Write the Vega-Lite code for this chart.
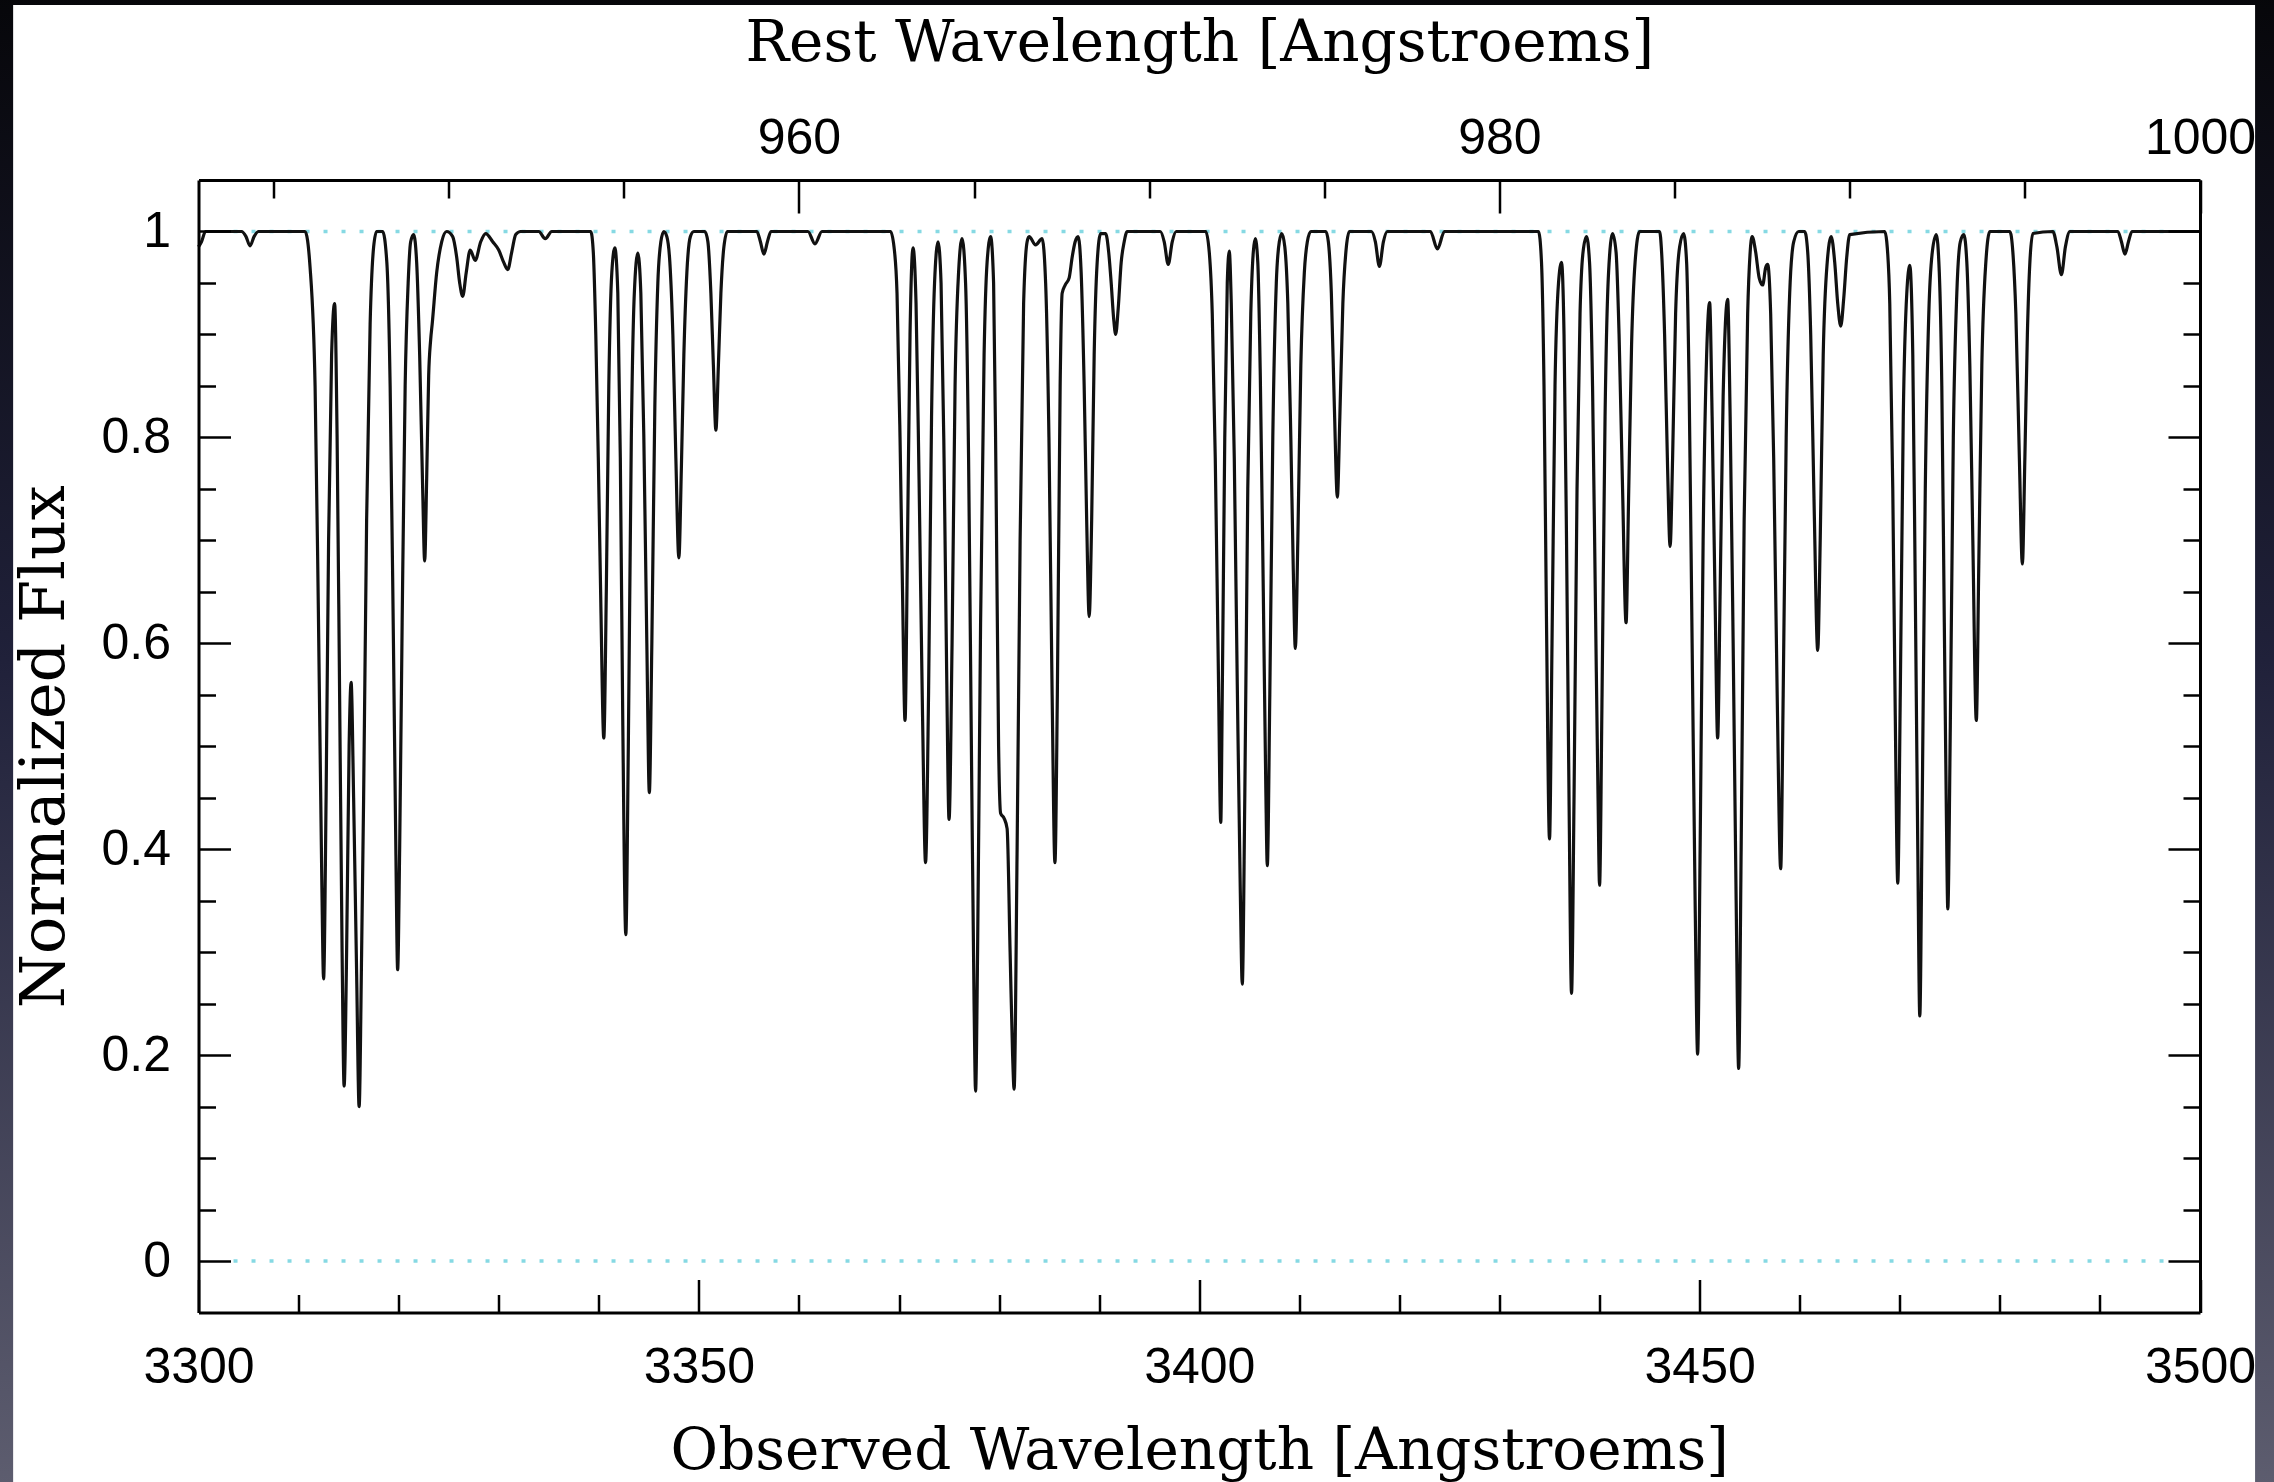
{
  "$schema": "https://vega.github.io/schema/vega-lite/v6.json",
  "width": 2001.5,
  "height": 1132.5,
  "autosize": {"type": "none"},
  "padding": {"left": 198.5, "top": 180, "right": 74, "bottom": 169.5},
  "background": "#1d1e2b",
  "config": {
    "view": {"stroke": null},
    "axis": {
      "zindex": 1,
      "grid": false,
      "domain": true,
      "domainColor": "black",
      "domainWidth": 3,
      "tickColor": "black",
      "tickWidth": 2.5,
      "labelColor": "black",
      "labelFont": "Liberation Sans",
      "labelFontSize": 50,
      "labelOverlap": false,
      "labelFlush": false,
      "titleColor": "black",
      "titleFont": "DejaVu Serif",
      "titleFontWeight": "normal",
      "titleFontSize": 58
    }
  },
  "datasets": {
    "levels": [{"level": 0}, {"level": 1}],
    "spectrum": [
      {"w":3300.0,"f":0.985},{"w":3300.3,"f":0.99},{"w":3300.7,"f":1.0},{"w":3304.3,"f":1.0},{"w":3304.75,"f":0.995},{"w":3305.15,"f":0.986},{"w":3305.55,"f":0.995},{"w":3306.0,"f":1.0},
      {"w":3310.65,"f":1.0},{"w":3311.15,"f":0.965},{"w":3311.65,"f":0.85},{"w":3311.98,"f":0.63},{"w":3312.32,"f":0.37},{"w":3312.5,"f":0.274},{"w":3312.75,"f":0.45},{"w":3313.0,"f":0.7},{"w":3313.3,"f":0.88},{"w":3313.6,"f":0.93},
      {"w":3313.85,"f":0.8},{"w":3314.1,"f":0.55},{"w":3314.35,"f":0.3},{"w":3314.55,"f":0.17},{"w":3314.8,"f":0.3},{"w":3315.05,"f":0.5},{"w":3315.25,"f":0.562},{"w":3315.5,"f":0.45},{"w":3315.8,"f":0.28},{"w":3316.05,"f":0.15},
      {"w":3316.3,"f":0.3},{"w":3316.5,"f":0.45},{"w":3316.8,"f":0.72},{"w":3317.15,"f":0.91},{"w":3317.5,"f":0.985},{"w":3317.8,"f":1.0},{"w":3318.4,"f":1.0},
      {"w":3318.82,"f":0.97},{"w":3319.15,"f":0.85},{"w":3319.48,"f":0.6},{"w":3319.72,"f":0.4},{"w":3319.9,"f":0.283},{"w":3320.1,"f":0.4},{"w":3320.35,"f":0.62},{"w":3320.65,"f":0.85},{"w":3320.95,"f":0.95},{"w":3321.2,"f":0.99},{"w":3321.5,"f":0.997},
      {"w":3321.8,"f":0.97},{"w":3322.1,"f":0.88},{"w":3322.4,"f":0.75},{"w":3322.6,"f":0.68},{"w":3322.8,"f":0.76},{"w":3323.0,"f":0.86},{"w":3323.2,"f":0.895},{"w":3323.35,"f":0.91},{"w":3323.8,"f":0.96},{"w":3324.3,"f":0.99},{"w":3324.8,"f":1.0},
      {"w":3325.4,"f":0.995},{"w":3325.8,"f":0.975},{"w":3326.1,"f":0.95},{"w":3326.4,"f":0.937},{"w":3326.75,"f":0.96},{"w":3327.15,"f":0.982},{"w":3327.65,"f":0.972},{"w":3328.2,"f":0.99},{"w":3328.7,"f":0.998},
      {"w":3329.4,"f":0.99},{"w":3330.0,"f":0.982},{"w":3330.5,"f":0.97},{"w":3330.9,"f":0.963},{"w":3331.3,"f":0.98},{"w":3331.7,"f":0.997},{"w":3332.2,"f":1.0},{"w":3334.0,"f":1.0},{"w":3334.65,"f":0.993},{"w":3335.3,"f":1.0},
      {"w":3339.2,"f":1.0},{"w":3339.45,"f":0.98},{"w":3339.7,"f":0.9},{"w":3339.95,"f":0.78},{"w":3340.2,"f":0.64},{"w":3340.5,"f":0.508},{"w":3340.75,"f":0.65},{"w":3341.0,"f":0.85},{"w":3341.3,"f":0.96},{"w":3341.6,"f":0.984},
      {"w":3341.9,"f":0.94},{"w":3342.15,"f":0.78},{"w":3342.4,"f":0.52},{"w":3342.7,"f":0.317},{"w":3342.95,"f":0.5},{"w":3343.25,"f":0.8},{"w":3343.55,"f":0.94},{"w":3343.9,"f":0.979},
      {"w":3344.2,"f":0.94},{"w":3344.5,"f":0.8},{"w":3344.8,"f":0.6},{"w":3345.05,"f":0.455},{"w":3345.3,"f":0.6},{"w":3345.6,"f":0.83},{"w":3345.9,"f":0.95},{"w":3346.2,"f":0.99},{"w":3346.5,"f":1.0},{"w":3346.8,"f":0.995},
      {"w":3347.1,"f":0.97},{"w":3347.4,"f":0.9},{"w":3347.7,"f":0.78},{"w":3348.0,"f":0.683},{"w":3348.25,"f":0.77},{"w":3348.5,"f":0.88},{"w":3348.8,"f":0.96},{"w":3349.15,"f":0.995},{"w":3349.5,"f":1.0},{"w":3350.6,"f":1.0},
      {"w":3350.9,"f":0.99},{"w":3351.2,"f":0.94},{"w":3351.45,"f":0.87},{"w":3351.7,"f":0.807},{"w":3351.95,"f":0.87},{"w":3352.2,"f":0.94},{"w":3352.5,"f":0.985},{"w":3352.85,"f":1.0},
      {"w":3355.8,"f":1.0},{"w":3356.15,"f":0.99},{"w":3356.5,"f":0.978},{"w":3356.85,"f":0.99},{"w":3357.2,"f":1.0},{"w":3360.9,"f":1.0},{"w":3361.6,"f":0.988},{"w":3362.3,"f":1.0},
      {"w":3369.15,"f":1.0},{"w":3369.5,"f":0.985},{"w":3369.8,"f":0.94},{"w":3370.1,"f":0.8},{"w":3370.35,"f":0.65},{"w":3370.6,"f":0.525},{"w":3370.85,"f":0.7},{"w":3371.1,"f":0.9},{"w":3371.4,"f":0.984},
      {"w":3371.7,"f":0.93},{"w":3372.0,"f":0.76},{"w":3372.35,"f":0.53},{"w":3372.65,"f":0.387},{"w":3372.95,"f":0.55},{"w":3373.25,"f":0.82},{"w":3373.55,"f":0.95},{"w":3373.9,"f":0.99},
      {"w":3374.2,"f":0.95},{"w":3374.5,"f":0.78},{"w":3374.75,"f":0.58},{"w":3375.0,"f":0.429},{"w":3375.3,"f":0.6},{"w":3375.6,"f":0.85},{"w":3375.95,"f":0.96},{"w":3376.3,"f":0.993},
      {"w":3376.65,"f":0.95},{"w":3376.95,"f":0.78},{"w":3377.25,"f":0.48},{"w":3377.5,"f":0.25},{"w":3377.65,"f":0.165},{"w":3377.85,"f":0.3},{"w":3378.15,"f":0.62},{"w":3378.5,"f":0.88},{"w":3378.8,"f":0.97},{"w":3379.15,"f":0.995},
      {"w":3379.45,"f":0.95},{"w":3379.7,"f":0.75},{"w":3379.95,"f":0.5},{"w":3380.15,"f":0.435},{"w":3380.5,"f":0.43},{"w":3380.8,"f":0.42},{"w":3381.1,"f":0.3},{"w":3381.35,"f":0.2},{"w":3381.5,"f":0.167},
      {"w":3381.8,"f":0.4},{"w":3382.1,"f":0.7},{"w":3382.45,"f":0.93},{"w":3382.8,"f":0.99},{"w":3383.0,"f":0.995},{"w":3383.65,"f":0.987},{"w":3384.3,"f":0.993},
      {"w":3384.65,"f":0.95},{"w":3384.98,"f":0.8},{"w":3385.3,"f":0.55},{"w":3385.58,"f":0.387},{"w":3385.82,"f":0.55},{"w":3386.1,"f":0.85},{"w":3386.3,"f":0.94},{"w":3386.6,"f":0.948},{"w":3387.0,"f":0.955},{"w":3387.3,"f":0.975},{"w":3387.6,"f":0.99},{"w":3387.9,"f":0.995},
      {"w":3388.2,"f":0.96},{"w":3388.5,"f":0.85},{"w":3388.75,"f":0.72},{"w":3389.0,"f":0.626},{"w":3389.25,"f":0.72},{"w":3389.5,"f":0.88},{"w":3389.8,"f":0.97},{"w":3390.15,"f":0.998},{"w":3390.65,"f":0.998},
      {"w":3390.95,"f":0.98},{"w":3391.2,"f":0.95},{"w":3391.45,"f":0.915},{"w":3391.65,"f":0.9},{"w":3391.9,"f":0.925},{"w":3392.2,"f":0.97},{"w":3392.5,"f":0.99},{"w":3392.8,"f":1.0},
      {"w":3396.1,"f":1.0},{"w":3396.5,"f":0.99},{"w":3396.9,"f":0.968},{"w":3397.3,"f":0.99},{"w":3397.7,"f":1.0},{"w":3400.65,"f":1.0},
      {"w":3401.0,"f":0.98},{"w":3401.3,"f":0.92},{"w":3401.6,"f":0.78},{"w":3401.9,"f":0.58},{"w":3402.15,"f":0.426},{"w":3402.3,"f":0.55},{"w":3402.55,"f":0.8},{"w":3402.8,"f":0.95},{"w":3403.0,"f":0.981},
      {"w":3403.2,"f":0.93},{"w":3403.5,"f":0.78},{"w":3403.8,"f":0.56},{"w":3404.1,"f":0.36},{"w":3404.3,"f":0.269},{"w":3404.55,"f":0.45},{"w":3404.85,"f":0.75},{"w":3405.15,"f":0.92},{"w":3405.4,"f":0.98},{"w":3405.6,"f":0.993},
      {"w":3405.85,"f":0.97},{"w":3406.1,"f":0.86},{"w":3406.4,"f":0.65},{"w":3406.65,"f":0.46},{"w":3406.8,"f":0.384},{"w":3407.05,"f":0.55},{"w":3407.35,"f":0.8},{"w":3407.7,"f":0.95},{"w":3408.0,"f":0.99},{"w":3408.25,"f":0.998},
      {"w":3408.55,"f":0.985},{"w":3408.85,"f":0.93},{"w":3409.15,"f":0.8},{"w":3409.4,"f":0.67},{"w":3409.6,"f":0.595},{"w":3409.85,"f":0.7},{"w":3410.15,"f":0.87},{"w":3410.5,"f":0.96},{"w":3410.8,"f":0.99},{"w":3411.15,"f":1.0},{"w":3412.65,"f":1.0},
      {"w":3412.9,"f":0.99},{"w":3413.2,"f":0.94},{"w":3413.5,"f":0.83},{"w":3413.8,"f":0.742},{"w":3414.05,"f":0.82},{"w":3414.35,"f":0.93},{"w":3414.7,"f":0.985},{"w":3415.0,"f":1.0},
      {"w":3417.2,"f":1.0},{"w":3417.6,"f":0.99},{"w":3418.0,"f":0.966},{"w":3418.4,"f":0.99},{"w":3418.8,"f":1.0},{"w":3423.1,"f":1.0},{"w":3423.8,"f":0.983},{"w":3424.5,"f":1.0},
      {"w":3433.9,"f":1.0},{"w":3434.2,"f":0.97},{"w":3434.45,"f":0.85},{"w":3434.7,"f":0.62},{"w":3435.0,"f":0.41},{"w":3435.25,"f":0.6},{"w":3435.55,"f":0.85},{"w":3435.9,"f":0.95},{"w":3436.2,"f":0.97},
      {"w":3436.45,"f":0.9},{"w":3436.7,"f":0.7},{"w":3436.95,"f":0.45},{"w":3437.2,"f":0.26},{"w":3437.45,"f":0.45},{"w":3437.75,"f":0.75},{"w":3438.05,"f":0.92},{"w":3438.35,"f":0.98},{"w":3438.7,"f":0.995},
      {"w":3439.0,"f":0.97},{"w":3439.3,"f":0.85},{"w":3439.6,"f":0.63},{"w":3439.85,"f":0.45},{"w":3440.0,"f":0.365},{"w":3440.25,"f":0.55},{"w":3440.55,"f":0.82},{"w":3440.9,"f":0.96},{"w":3441.3,"f":0.998},
      {"w":3441.65,"f":0.98},{"w":3441.95,"f":0.9},{"w":3442.3,"f":0.75},{"w":3442.65,"f":0.62},{"w":3442.9,"f":0.74},{"w":3443.2,"f":0.89},{"w":3443.55,"f":0.97},{"w":3444.0,"f":1.0},{"w":3446.0,"f":1.0},
      {"w":3446.2,"f":0.98},{"w":3446.5,"f":0.9},{"w":3446.8,"f":0.77},{"w":3447.05,"f":0.694},{"w":3447.3,"f":0.78},{"w":3447.6,"f":0.92},{"w":3448.0,"f":0.985},{"w":3448.4,"f":0.998},
      {"w":3448.7,"f":0.97},{"w":3448.95,"f":0.85},{"w":3449.25,"f":0.6},{"w":3449.55,"f":0.35},{"w":3449.8,"f":0.201},{"w":3450.05,"f":0.4},{"w":3450.35,"f":0.7},{"w":3450.7,"f":0.88},{"w":3451.0,"f":0.931},
      {"w":3451.25,"f":0.82},{"w":3451.55,"f":0.64},{"w":3451.8,"f":0.508},{"w":3452.05,"f":0.65},{"w":3452.35,"f":0.84},{"w":3452.8,"f":0.934},
      {"w":3453.05,"f":0.82},{"w":3453.35,"f":0.6},{"w":3453.65,"f":0.35},{"w":3453.9,"f":0.187},{"w":3454.15,"f":0.4},{"w":3454.45,"f":0.72},{"w":3454.8,"f":0.92},{"w":3455.05,"f":0.98},{"w":3455.25,"f":0.995},
      {"w":3455.6,"f":0.98},{"w":3455.95,"f":0.955},{"w":3456.3,"f":0.948},{"w":3456.6,"f":0.965},{"w":3456.8,"f":0.968},
      {"w":3457.1,"f":0.92},{"w":3457.4,"f":0.78},{"w":3457.75,"f":0.55},{"w":3458.1,"f":0.381},{"w":3458.35,"f":0.55},{"w":3458.65,"f":0.8},{"w":3459.0,"f":0.94},{"w":3459.4,"f":0.99},{"w":3459.9,"f":1.0},{"w":3460.5,"f":1.0},
      {"w":3460.8,"f":0.98},{"w":3461.1,"f":0.9},{"w":3461.45,"f":0.73},{"w":3461.8,"f":0.593},{"w":3462.05,"f":0.7},{"w":3462.35,"f":0.88},{"w":3462.75,"f":0.97},{"w":3463.15,"f":0.995},
      {"w":3463.5,"f":0.97},{"w":3463.8,"f":0.93},{"w":3464.1,"f":0.908},{"w":3464.4,"f":0.935},{"w":3464.7,"f":0.975},{"w":3465.0,"f":0.997},{"w":3468.5,"f":1.0},
      {"w":3468.7,"f":0.99},{"w":3469.0,"f":0.93},{"w":3469.3,"f":0.75},{"w":3469.55,"f":0.53},{"w":3469.8,"f":0.367},{"w":3470.05,"f":0.55},{"w":3470.35,"f":0.82},{"w":3470.7,"f":0.94},{"w":3471.0,"f":0.967},
      {"w":3471.3,"f":0.88},{"w":3471.55,"f":0.65},{"w":3471.8,"f":0.4},{"w":3472.0,"f":0.238},{"w":3472.25,"f":0.45},{"w":3472.55,"f":0.75},{"w":3472.9,"f":0.92},{"w":3473.25,"f":0.98},{"w":3473.65,"f":0.997},
      {"w":3473.95,"f":0.96},{"w":3474.2,"f":0.85},{"w":3474.45,"f":0.62},{"w":3474.65,"f":0.44},{"w":3474.8,"f":0.342},{"w":3475.05,"f":0.52},{"w":3475.35,"f":0.8},{"w":3475.7,"f":0.94},{"w":3476.05,"f":0.99},{"w":3476.4,"f":0.997},
      {"w":3476.7,"f":0.97},{"w":3477.0,"f":0.87},{"w":3477.3,"f":0.7},{"w":3477.65,"f":0.525},{"w":3477.9,"f":0.68},{"w":3478.2,"f":0.87},{"w":3478.6,"f":0.97},{"w":3479.0,"f":1.0},{"w":3481.0,"f":1.0},
      {"w":3481.3,"f":0.98},{"w":3481.6,"f":0.92},{"w":3481.95,"f":0.78},{"w":3482.25,"f":0.677},{"w":3482.5,"f":0.78},{"w":3482.75,"f":0.9},{"w":3483.0,"f":0.97},{"w":3483.3,"f":0.998},
      {"w":3485.3,"f":1.0},{"w":3485.7,"f":0.985},{"w":3486.15,"f":0.958},{"w":3486.55,"f":0.985},{"w":3487.0,"f":1.0},
      {"w":3491.8,"f":1.0},{"w":3492.15,"f":0.99},{"w":3492.5,"f":0.978},{"w":3492.85,"f":0.99},{"w":3493.2,"f":1.0},{"w":3500.0,"f":1.0}
    ]
  },
  "resolve": {"axis": {"x": "independent", "y": "independent"}},
  "layer": [
    {
      "data": {"name": "levels"},
      "mark": {
        "type": "rect",
        "fill": {
          "gradient": "linear", "x1": 0, "y1": 0, "x2": 0, "y2": 1,
          "stops": [
            {"offset": 0, "color": "#060609"},
            {"offset": 0.45, "color": "#20213a"},
            {"offset": 1, "color": "#5d5d6f"}
          ]
        }
      },
      "encoding": {
        "x": {"datum": 3275, "type": "quantitative", "scale": {"domain": [3300, 3500], "nice": false, "zero": false}, "axis": null},
        "x2": {"datum": 3510},
        "y": {"datum": 1.24, "type": "quantitative", "scale": {"domain": [-0.05, 1.05], "nice": false, "zero": false}, "axis": null},
        "y2": {"datum": -0.22}
      }
    },
    {
      "data": {"name": "levels"},
      "mark": {"type": "rect", "fill": "white"},
      "encoding": {
        "x": {"datum": 3281.5, "type": "quantitative", "scale": {"domain": [3300, 3500], "nice": false, "zero": false}, "axis": null},
        "x2": {"datum": 3505.5},
        "y": {"datum": 1.22, "type": "quantitative", "scale": {"domain": [-0.05, 1.05], "nice": false, "zero": false}, "axis": null},
        "y2": {"datum": -0.22}
      }
    },
    {
      "data": {"name": "levels"},
      "mark": {"type": "rule", "color": "#86d9e3", "strokeWidth": 3.5, "strokeDash": [4, 14]},
      "encoding": {
        "x": {
          "datum": 3303.5, "type": "quantitative",
          "scale": {"domain": [3300, 3500], "nice": false, "zero": false},
          "axis": {
            "zindex": 2,
            "orient": "bottom",
            "values": [3300,3310,3320,3330,3340,3350,3360,3370,3380,3390,3400,3410,3420,3430,3440,3450,3460,3470,3480,3490,3500],
            "tickSize": {"condition": {"test": "datum.value % 50 === 0", "value": -33}, "value": -18},
            "labelExpr": "datum.value % 50 === 0 ? format(datum.value, 'd') : ''",
            "labelPadding": 63,
            "title": "Observed Wavelength [Angstroems]",
            "titlePadding": 15
          }
        },
        "x2": {"datum": 3497},
        "y": {
          "field": "level", "type": "quantitative",
          "scale": {"domain": [-0.05, 1.05], "nice": false, "zero": false},
          "axis": {
            "zindex": 2,
            "orient": "left",
            "values": [0,0.05,0.1,0.15,0.2,0.25,0.3,0.35,0.4,0.45,0.5,0.55,0.6,0.65,0.7,0.75,0.8,0.85,0.9,0.95,1],
            "tickSize": {"condition": {"test": "round(datum.value * 100) % 20 === 0", "value": -32}, "value": -17},
            "labelExpr": "round(datum.value * 100) % 20 === 0 ? format(datum.value, '~g') : ''",
            "labelPadding": 60,
            "title": "Normalized Flux",
            "titleFontSize": 62,
            "titlePadding": 24
          }
        }
      }
    },
    {
      "data": {"name": "spectrum"},
      "mark": {"type": "line", "color": "#111111", "strokeWidth": 3.2, "interpolate": "monotone"},
      "encoding": {
        "x": {
          "field": "w", "type": "quantitative",
          "scale": {"domain": [3300, 3500], "nice": false, "zero": false},
          "axis": {
            "zindex": 2,
            "orient": "top",
            "values": [3307.5,3325,3342.5,3360,3377.5,3395,3412.5,3430,3447.5,3465,3482.5,3500],
            "tickSize": {"condition": {"test": "round(datum.value / 3.5) % 20 === 0", "value": -33}, "value": -18},
            "labelExpr": "round(datum.value / 3.5) % 20 === 0 ? format(datum.value / 3.5, 'd') : ''",
            "labelPadding": 50,
            "title": "Rest Wavelength [Angstroems]",
            "titlePadding": 26
          }
        },
        "y": {
          "field": "f", "type": "quantitative",
          "scale": {"domain": [-0.05, 1.05], "nice": false, "zero": false},
          "axis": {
            "zindex": 2,
            "orient": "right",
            "values": [0,0.05,0.1,0.15,0.2,0.25,0.3,0.35,0.4,0.45,0.5,0.55,0.6,0.65,0.7,0.75,0.8,0.85,0.9,0.95,1],
            "tickSize": {"condition": {"test": "round(datum.value * 100) % 20 === 0", "value": -32}, "value": -17},
            "labels": false,
            "title": null
          }
        }
      }
    }
  ]
}
